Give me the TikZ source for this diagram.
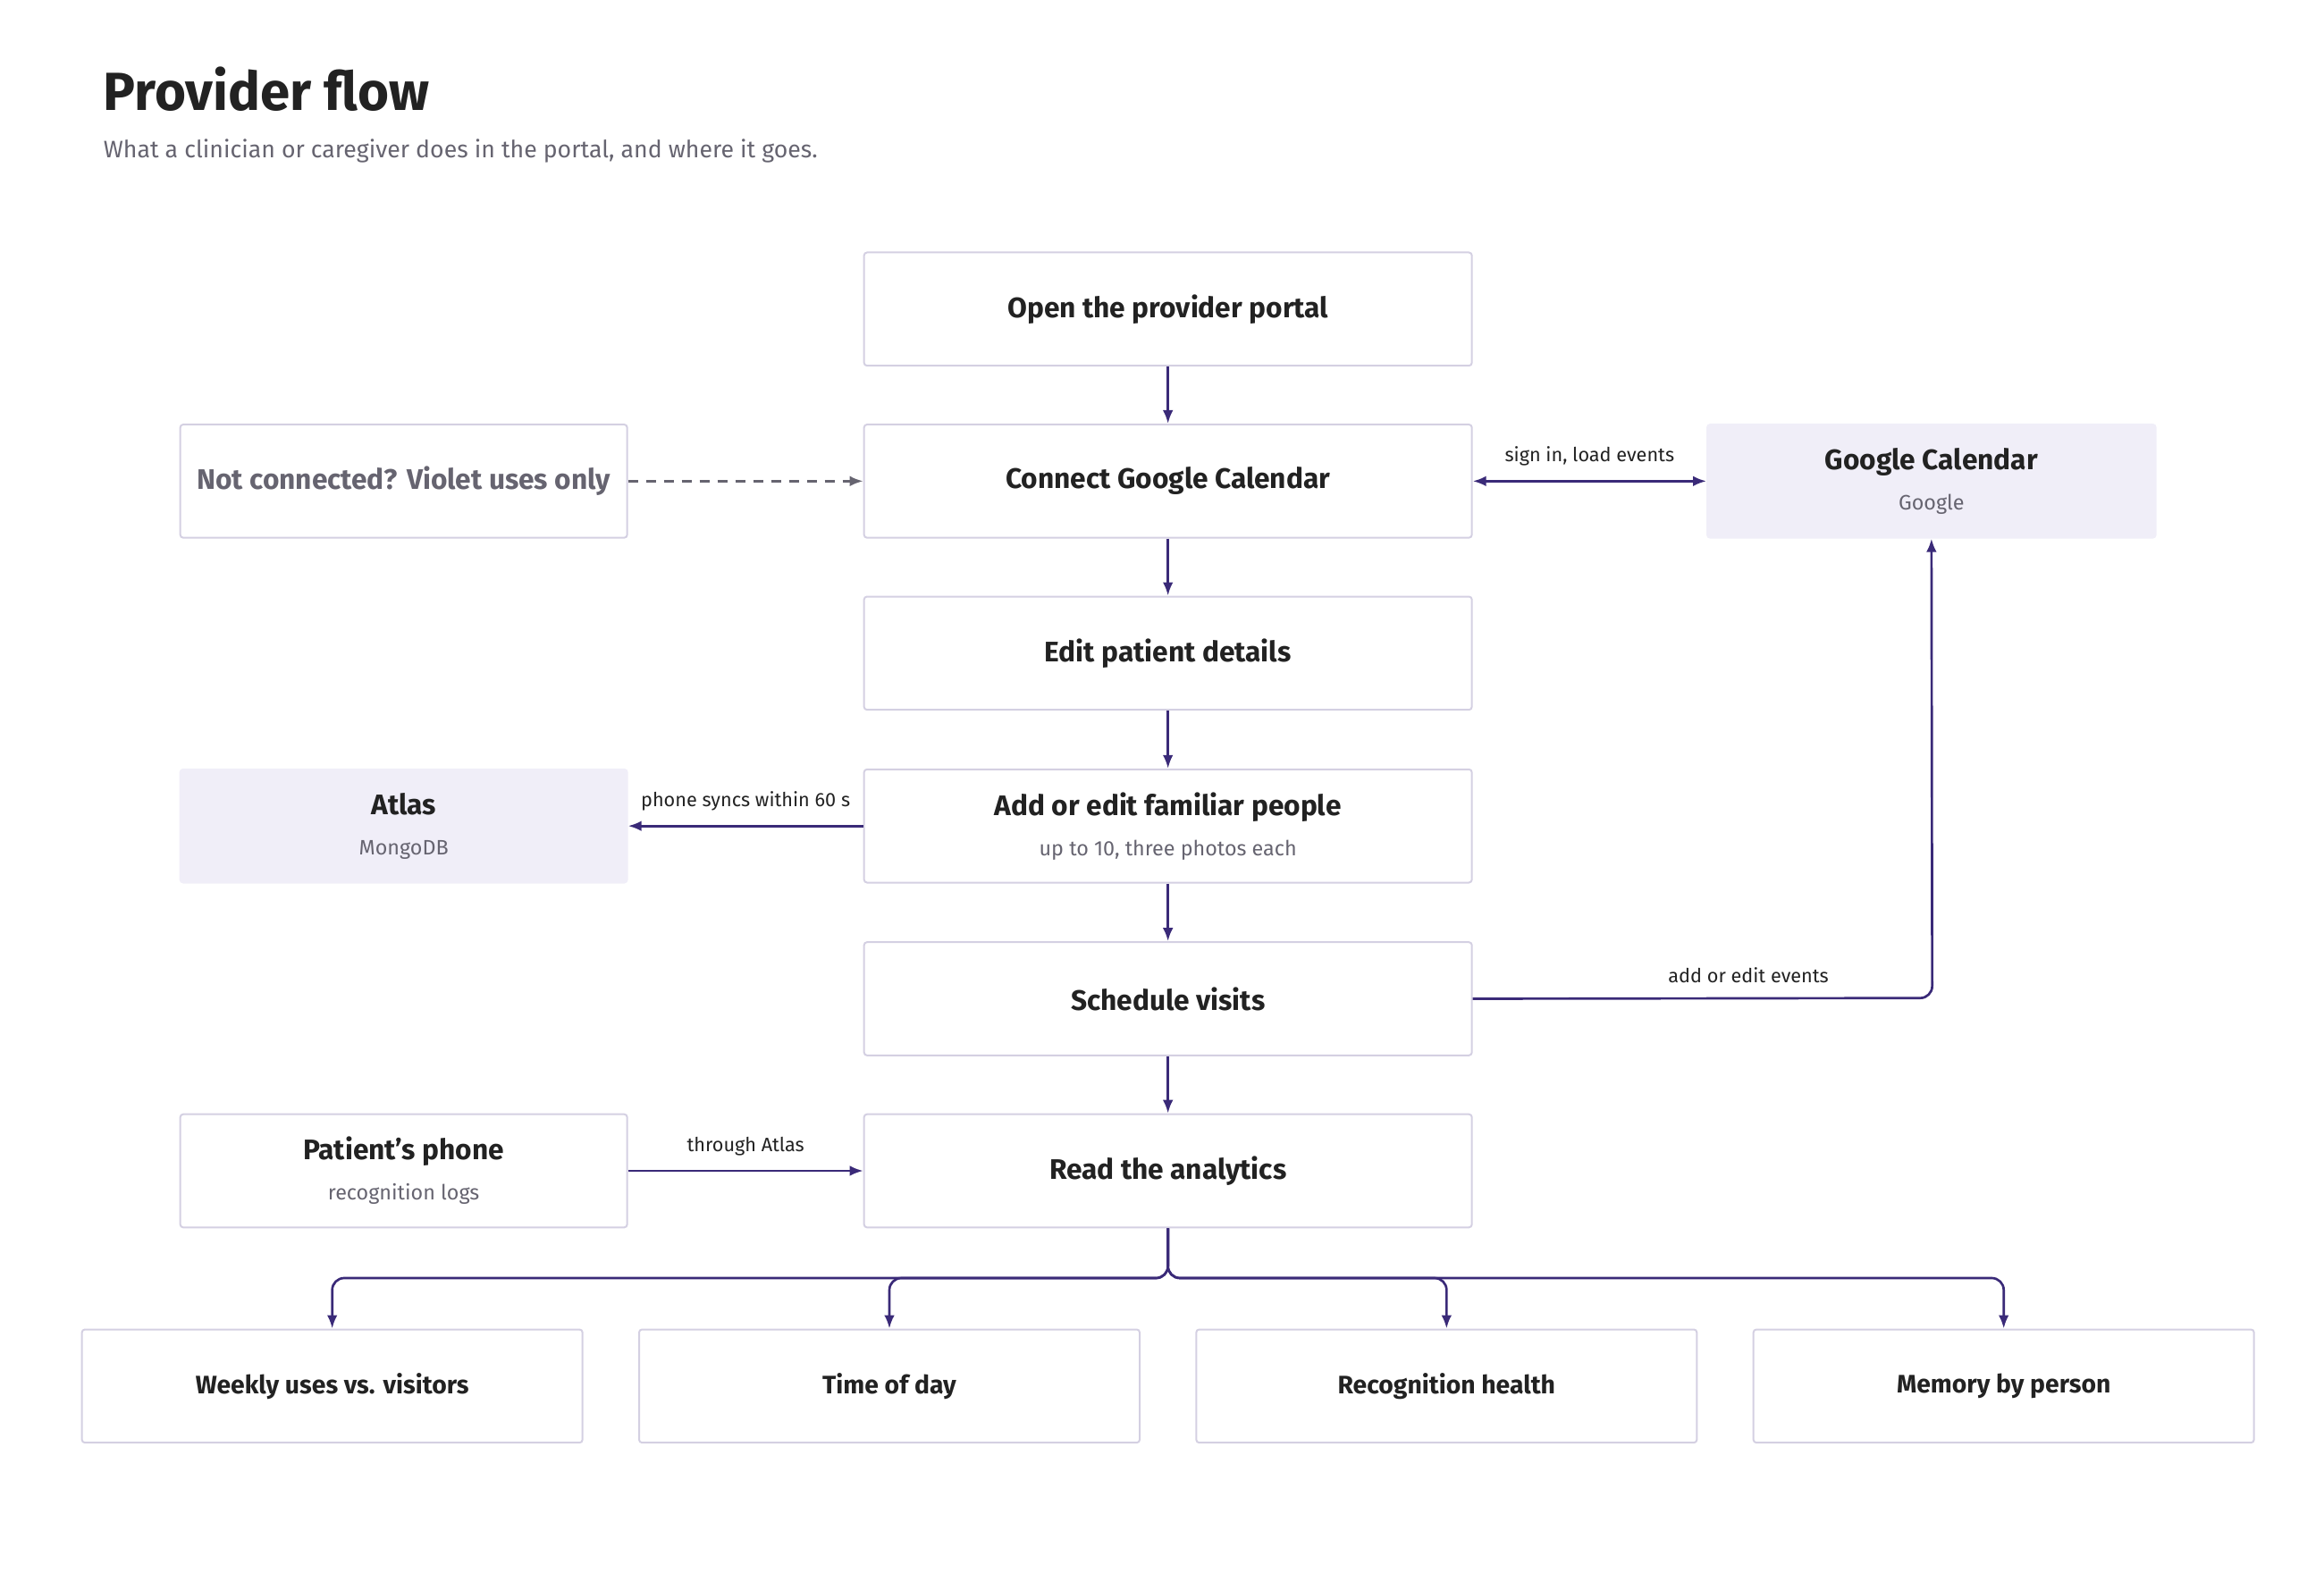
\documentclass[tikz,border=0pt]{standalone}
\usepackage{fontspec}
\setmainfont{Fira Sans}
\usetikzlibrary{arrows.meta}
\definecolor{ink}{HTML}{222222}
\definecolor{sub}{HTML}{666470}
\definecolor{edge}{HTML}{3A2A78}
\definecolor{bord}{HTML}{D4D0E2}
\definecolor{lav}{HTML}{F0EEF8}
\newcommand\smtxt{\fontsize{14}{17}\selectfont\mdseries\color{sub}}
\begin{document}
\begin{tikzpicture}[x=1pt,y=-1pt,
 box/.style={draw=bord,line width=1.2pt,rounded corners=2pt,minimum height=76pt,inner sep=0pt,text=ink,align=center,font=\fontsize{19}{23}\selectfont\bfseries},
 main/.style={box,minimum width=408pt},
 side/.style={box,minimum width=300pt},
 filled/.style={fill=lav,draw=lav},
 bot/.style={box,minimum width=336pt,font=\fontsize{17}{21}\selectfont\bfseries},
 con/.style={draw=edge,line width=1.6pt,-{Latex[length=9pt,width=7pt]}},
 lab/.style={font=\fontsize{13}{16}\selectfont,text=ink}]
\useasboundingbox (0,0) rectangle (1560,1056);
\node[anchor=base west,font=\fontsize{36}{42}\selectfont\bfseries,text=ink] (t) at (66,74) {Provider flow};
\node[anchor=base west,font=\fontsize{16}{20}\selectfont,text=sub] (s) at (66,106) {What a clinician or caregiver does in the portal, and where it goes.};
\node[main] (open) at (784,207.5) {Open the provider portal};
\node[main] (conn) at (784,323) {Connect Google Calendar};
\node[main] (edit) at (784,438.5) {Edit patient details};
\node[main] (add) at (784,554.5) {Add or edit familiar people\\[4pt]{\smtxt up to 10, three photos each}};
\node[main] (sched) at (784,670.5) {Schedule visits};
\node[main] (read) at (784,786) {Read the analytics};
\node[side,text=sub] (nc) at (271,323) {Not connected? Violet uses only};
\node[side,filled] (atlas) at (271,554.5) {Atlas\\[4pt]{\smtxt MongoDB}};
\node[side] (phone) at (271,786) {Patient's phone\\[4pt]{\smtxt recognition logs}};
\node[side,filled,minimum width=301pt] (gc) at (1296.5,323) {Google Calendar\\[4pt]{\smtxt Google}};
\node[bot] (b1) at (223,930.5) {Weekly uses vs. visitors};
\node[bot] (b2) at (597,930.5) {Time of day};
\node[bot] (b3) at (971,930.5) {Recognition health};
\node[bot] (b4) at (1345,930.5) {Memory by person};
\draw[con] (open) -- (conn);
\draw[con] (conn) -- (edit);
\draw[con] (edit) -- (add);
\draw[con] (add) -- (sched);
\draw[con] (sched) -- (read);
\draw[con,draw=sub,dash pattern=on 7pt off 5pt,color=sub] (nc) -- (conn);
\draw[con,{Latex[length=9pt,width=7pt]}-{Latex[length=9pt,width=7pt]}] (conn) -- node[lab,above=6pt]{sign in, load events} (gc);
\draw[con] (add) -- node[lab,above=6pt]{phone syncs within 60 s} (atlas);
\draw[con] (phone) -- node[lab,above=6pt]{through Atlas} (read);
\draw[con,rounded corners=8pt] (sched.east) -- node[lab,above=6pt,pos=0.6]{add or edit events} (1297,670) -- (gc.south);
\foreach \b in {b1,b2,b3,b4}
 \draw[con,rounded corners=8pt] (read.south) -- (784,858) -| (\b.north);
\end{tikzpicture}
\end{document}
